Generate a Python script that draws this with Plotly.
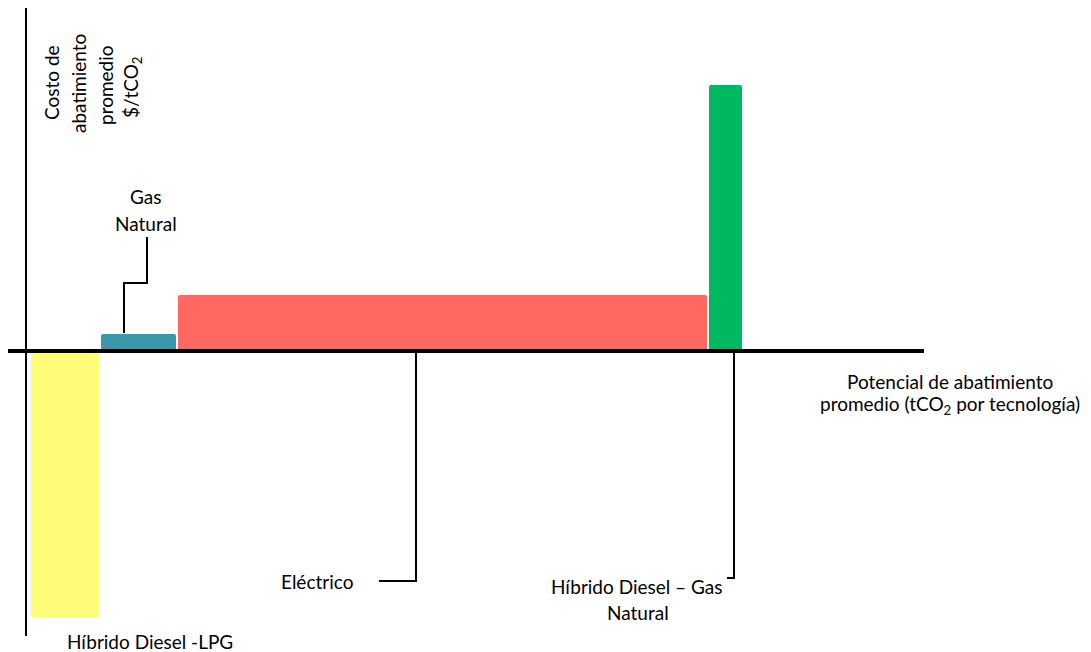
import plotly.graph_objects as go

# Data (arbitrary units)
technologies = ["Híbrido Diesel -LPG", "Gas Natural", "Eléctrico", "Híbrido Diesel – Gas Natural"]
potential = [70, 77, 531, 35]          # abatement potential (bar widths)
cost = [-268, 18, 57, 267]             # average abatement cost (bar heights)
colors = ["#FFFC7A", "#3B97AB", "#FF6962", "#00B862"]

W, H = 1091, 652
FONT = "Lato"
FS = 19

starts = []
acc = 0
for p in potential:
    starts.append(acc)
    acc += p
centers = [s + p / 2 for s, p in zip(starts, potential)]

fig = go.Figure()
fig.add_trace(go.Bar(
    x=centers, y=cost, width=potential,
    marker=dict(color=colors, line=dict(color="white", width=2)),
    hoverinfo="skip", showlegend=False,
))

def px(x):
    return x / W

def py(y):
    return 1 - y / H

shapes = []
# axes lines
shapes.append(dict(type="line", xref="paper", yref="paper", x0=px(26), x1=px(26), y0=py(8), y1=py(636),
                   line=dict(color="black", width=2)))
shapes.append(dict(type="line", xref="paper", yref="paper", x0=px(8), x1=px(924), y0=py(351), y1=py(351),
                   line=dict(color="black", width=4)))

def path(points):
    d = "M " + " L ".join(f"{px(x)},{py(y)}" for x, y in points)
    return dict(type="path", xref="paper", yref="paper", path=d, line=dict(color="black", width=2))

shapes.append(path([(147, 237), (147, 283), (124, 283), (124, 333)]))
shapes.append(path([(379, 581), (416, 581), (416, 352)]))
shapes.append(path([(727, 578), (734, 578), (734, 352)]))

fig.update_layout(shapes=shapes)

ann = []
def text(x, y, s, angle=0, size=FS):
    ann.append(dict(xref="paper", yref="paper", x=px(x), y=py(y), text=s, showarrow=False,
                    xanchor="center", yanchor="middle", textangle=angle,
                    font=dict(family=FONT, size=size, color="black")))

# y-axis title, rotated lines
text(51, 83, "Costo de", angle=-90)
text(78, 84, "abatimiento", angle=-90)
text(105, 85, "promedio", angle=-90)
text(132, 87, "$/tCO<sub>2</sub>", angle=-90)

# x-axis title
text(950, 381, "Potencial de abatimiento")
text(950, 405, "promedio (tCO<sub>2</sub> por tecnología)")

# labels
text(146, 197, "Gas")
text(146, 223, "Natural")
text(317, 581, "Eléctrico")
text(637, 586, "Híbrido Diesel – Gas")
text(638, 612, "Natural")
text(150, 641, "Híbrido Diesel -LPG")

fig.update_layout(
    annotations=ann,
    width=W, height=H,
    margin=dict(l=0, r=0, t=0, b=0),
    paper_bgcolor="white", plot_bgcolor="white",
    xaxis=dict(range=[-29.5, W - 29.5], visible=False, fixedrange=True),
    yaxis=dict(range=[-(H - 351), 351], visible=False, fixedrange=True),
    barcornerradius=3,
    bargap=0,
)

fig.write_html("out.html")
